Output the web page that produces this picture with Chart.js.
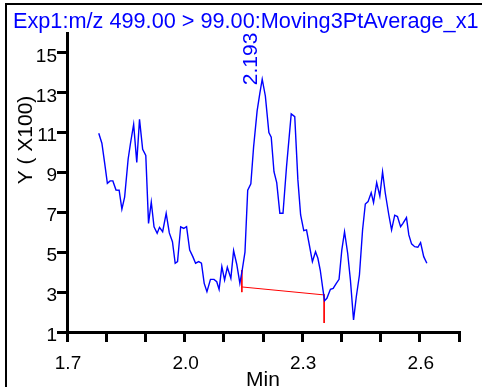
<!DOCTYPE html>
<html><head><meta charset="utf-8">
<script src="https://cdn.jsdelivr.net/npm/chart.js@4.4.1/dist/chart.umd.min.js"></script>
<style>html,body{margin:0;padding:0;background:#fff}#wrap{width:482px;height:387px;position:relative}</style>
</head><body><div id="wrap"><canvas id="c" width="482" height="387"></canvas></div>
<script>
const titleText = 'Exp1:m/z 499.00 > 99.00:Moving3PtAverage_x1';
const xAxisTitle = 'Min';
const yAxisTitle = 'Y ( X100)';
const peakLabel = '2.193';
const peakTime = 2.193;

const timeMin = [1.781,1.789,1.796,1.803,1.810,1.817,1.825,1.833,1.840,1.847,
1.856,1.862,1.870,1.878,1.885,1.893,1.901,1.908,1.915,1.922,
1.930,1.936,1.944,1.953,1.961,1.969,1.976,1.982,1.990,1.998,
2.005,2.013,2.021,2.028,2.036,2.043,2.050,2.057,2.066,2.075,
2.082,2.088,2.095,2.102,2.109,2.118,2.125,2.133,2.141,2.147,
2.154,2.161,2.169,2.176,2.185,2.192,2.198,2.206,2.215,2.221,
2.228,2.235,2.243,2.251,2.260,2.272,2.281,2.289,2.296,2.304,
2.311,2.319,2.326,2.334,2.340,2.346,2.353,2.357,2.363,2.372,
2.379,2.387,2.394,2.401,2.408,2.416,2.423,2.431,2.438,2.446,
2.454,2.461,2.468,2.476,2.482,2.490,2.498,2.505,2.512,2.521,
2.528,2.536,2.543,2.551,2.557,2.566,2.572,2.579,2.587,2.595,
2.602,2.610,2.618];

const intensity = [10.97,10.47,9.48,8.46,8.58,8.58,8.12,8.11,7.16,7.77,
9.68,10.47,11.41,9.51,11.67,10.17,9.86,6.45,7.52,6.28,
5.95,6.25,6.03,6.95,5.97,5.53,4.45,4.53,6.28,6.20,
6.28,5.11,4.78,4.45,4.53,4.45,3.44,3.02,3.64,3.64,
3.52,3.14,4.28,3.61,4.25,3.69,5.08,4.40,3.44,4.11,
5.01,8.12,8.44,10.28,12.09,12.98,13.68,12.84,11.00,10.77,
9.04,8.49,6.96,6.96,9.29,11.94,11.80,8.63,6.87,6.08,
6.12,5.28,4.53,5.03,4.70,4.11,3.11,2.57,2.69,3.14,
3.19,3.44,3.64,5.11,6.03,4.95,3.61,1.60,2.77,3.86,
6.12,7.42,7.54,7.99,7.49,8.49,7.82,9.03,7.96,6.87,
6.12,6.86,6.79,6.28,6.45,6.74,5.87,5.42,5.28,5.25,
5.48,4.78,4.45];

// integration baseline marks (null = break)
const baselineX = [2.146, 2.146, 2.146, 2.146, 2.356, 2.356, 2.356, 2.356];
const baselineY = [4.11, 3.00, null, 3.26, 2.86, null, 2.89, 1.45];

const xTickValues = [1.7,1.8,1.9,2.0,2.1,2.2,2.3,2.4,2.5,2.6,2.7];
const xTickLabels = ['1.7','','','2.0','','','2.3','','','2.6',''];
const yTickValues = [1,3,5,7,9,11,13,15];
const yTickLabels = ['1','3','5','7','9','11','13','15'];

const FONT = "'Liberation Sans', Arial, sans-serif";
Chart.defaults.font.family = FONT;

const extras = {
  id: 'extras',
  afterDraw(chart) {
    const ctx = chart.ctx;
    const xs = chart.scales.x, ys = chart.scales.y;
    ctx.save();
    // frame
    ctx.fillStyle = '#000';
    ctx.fillRect(5, 3, 2, 384);
    ctx.fillRect(5, 3, 477, 2);
    // chart title
    ctx.font = '21.7px ' + FONT;
    ctx.fillStyle = '#0000ff';
    ctx.textAlign = 'left';
    ctx.textBaseline = 'alphabetic';
    ctx.fillText(titleText, 13, 28);
    // y title
    ctx.save();
    ctx.translate(26, 140);
    ctx.rotate(-Math.PI / 2);
    ctx.textAlign = 'center';
    ctx.textBaseline = 'middle';
    ctx.font = '21px ' + FONT;
    ctx.fillStyle = '#000';
    ctx.fillText(yAxisTitle, 0, 0);
    ctx.restore();
    // peak label
    const peakVal = Math.max(...intensity);
    const px = xs.getPixelForValue(peakTime);
    const py = ys.getPixelForValue(peakVal);
    ctx.save();
    ctx.translate(px - 3.5, py + 6);
    ctx.rotate(-Math.PI / 2);
    ctx.textAlign = 'left';
    ctx.textBaseline = 'alphabetic';
    ctx.font = '21px ' + FONT;
    ctx.fillStyle = '#0000ff';
    ctx.fillText(peakLabel, 0, 0);
    ctx.restore();
    ctx.restore();
  }
};

new Chart(document.getElementById('c'), {
  type: 'line',
  data: {
    datasets: [
      {
        data: timeMin.map((t, i) => ({x: t, y: intensity[i]})),
        borderColor: '#0000ff', borderWidth: 1.4, pointRadius: 0, tension: 0, fill: false
      },
      {
        data: baselineX.map((t, i) => ({x: t, y: baselineY[i]})),
        borderColor: '#ff0000', borderWidth: 1, pointRadius: 0, tension: 0, fill: false, spanGaps: false
      }
    ]
  },
  options: {
    responsive: false,
    animation: false,
    devicePixelRatio: 1,
    layout: {padding: {left: 13, right: 23, top: 33, bottom: 0}},
    plugins: {
      legend: {display: false},
      tooltip: {enabled: false},
      title: {display: false}
    },
    scales: {
      x: {
        type: 'linear', min: 1.7, max: 2.7,
        afterBuildTicks: s => { s.ticks = xTickValues.map(v => ({value: v})); },
        afterFit: s => { s.height = 55; },
        ticks: {autoSkip: false, maxRotation: 0, color: '#000', font: {size: 19}, padding: 10, labelOffset: 1,
                callback: (v, i) => xTickLabels[i]},
        grid: {display: true, drawOnChartArea: false, drawTicks: true, tickLength: 10, color: '#000', lineWidth: 3},
        border: {display: true, color: '#000', width: 3},
        title: {display: true, text: xAxisTitle, color: '#000', font: {size: 21, lineHeight: 1}, padding: {top: 0, bottom: -4}}
      },
      y: {
        type: 'linear', min: 1, max: 16,
        afterBuildTicks: s => { s.ticks = yTickValues.map(v => ({value: v})); },
        afterFit: s => { s.width = 54; },
        ticks: {color: '#000', font: {size: 19}, padding: 0, labelOffset: 3.5,
                callback: (v, i) => yTickLabels[i]},
        grid: {display: true, drawOnChartArea: false, drawTicks: true, tickLength: 10, color: '#000', lineWidth: 3},
        border: {display: true, color: '#000', width: 3}
      }
    }
  },
  plugins: [extras]
});
</script>
</body></html>
